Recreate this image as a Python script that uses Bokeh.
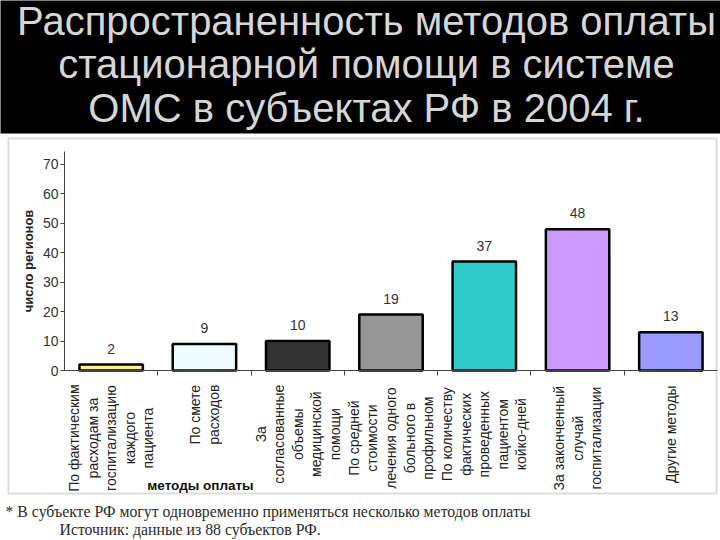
import math
from bokeh.plotting import figure
from bokeh.models import (Range1d, LinearAxis, FixedTicker, Label, BoxAnnotation,
                          ColumnDataSource)
from bokeh.core.properties import value
from bokeh.embed import file_html
from bokeh.resources import INLINE

# ---------------- data ----------------
title_lines = [
    "Распространенность методов оплаты",
    "стационарной помощи в системе",
    "ОМС в субъектах РФ в 2004 г.",
]
categories = [
    "По фактическим\nрасходам за\nгоспитализацию\nкаждого\nпациента",
    "По смете\nрасходов",
    "За\nсогласованные\nобъемы\nмедицинской\nпомощи",
    "По средней\nстоимости\nлечения одного\nбольного в\nпрофильном",
    "По количеству\nфактических\nпроведенных\nпациентом\nкойко-дней",
    "За законченный\nслучай\nгоспитализации",
    "Другие методы",
]
values = [2, 9, 10, 19, 37, 48, 13]
bar_colors = ["#f7f28e", "#eefcfd", "#333333", "#969696", "#33cccc", "#cc99ff", "#9999ff"]
y_ticks = [0, 10, 20, 30, 40, 50, 60, 70]
y_label = "число регионов"
x_label = "методы оплаты"
footnotes = [
    "* В субъекте РФ могут одновременно применяться несколько методов оплаты",
    "Источник: данные из 88 субъектов РФ.",
]

# ---------------- layout helpers (pixel -> data) ----------------
W, H = 720, 540
AL, AR, AT, AB = 64, 717, 151, 370   # plot-area box in canvas pixels
N = len(categories)
YMAX = 74.4


def dx(px):
    return (px - AL) / (AR - AL) * N


def dy(py):
    return (AB - py) / (AB - AT) * YMAX


p = figure(width=W, height=H, x_range=Range1d(dx(0), dx(W)), y_range=Range1d(dy(H), dy(0)),
           output_backend="svg", toolbar_location=None,
           x_axis_type=None, y_axis_type=None,
           min_border=0, min_border_left=0, min_border_right=0,
           min_border_top=0, min_border_bottom=0)
p.outline_line_color = None
p.background_fill_color = "white"
p.border_fill_color = "white"

# black title band
p.add_layout(BoxAnnotation(left=dx(-20), right=dx(740), top=dy(-20), bottom=dy(133),
                           fill_color="black", fill_alpha=1.0, line_color=None,
                           level="underlay"))
# gray chart frame
p.add_layout(BoxAnnotation(left=dx(8), right=dx(716), top=dy(138), bottom=dy(493),
                           fill_alpha=0.0, line_color="#8a8a8a", line_width=2,
                           level="underlay"))

# title
title_y = [20, 63, 107]
for line, ty in zip(title_lines, title_y):
    p.add_layout(Label(x=dx(366), y=dy(ty), text=line,
                       text_align="center", text_baseline="alphabetic",
                       text_font="Liberation Sans", text_font_size="40px",
                       text_color="#d6d6d6"))

# axes (positioned at the data origin, limited to the plot area)
yaxis = LinearAxis(ticker=FixedTicker(ticks=y_ticks), axis_label=y_label,
                   fixed_location=0, bounds=(0, YMAX))
yaxis.axis_line_color = "#444444"
yaxis.major_tick_line_color = "#444444"
yaxis.major_tick_out = 4
yaxis.major_tick_in = 0
yaxis.minor_tick_line_color = None
yaxis.major_label_standoff = 2
yaxis.major_label_text_font = "Liberation Sans"
yaxis.major_label_text_font_size = "14px"
yaxis.major_label_text_color = "#333333"
yaxis.axis_label_text_font = "Liberation Sans"
yaxis.axis_label_text_font_size = "13px"
yaxis.axis_label_text_font_style = "bold"
yaxis.axis_label_text_color = "#222222"
yaxis.axis_label_standoff = 4
p.add_layout(yaxis, "left")

xticks = list(range(1, N))
xaxis = LinearAxis(ticker=FixedTicker(ticks=xticks), fixed_location=0, bounds=(0, N),
                   major_label_overrides={t: "" for t in xticks})
xaxis.axis_line_color = "#444444"
xaxis.major_tick_line_color = "#444444"
xaxis.major_tick_out = 5
xaxis.major_tick_in = 0
xaxis.minor_tick_line_color = None
p.add_layout(xaxis, "below")

# bars
xs = [i + 0.5 for i in range(N)]
src = ColumnDataSource(dict(x=xs, top=values, color=bar_colors,
                            lab=[str(v) for v in values]))
p.vbar(x="x", top="top", width=0.68, bottom=0, source=src,
       fill_color="color", line_color="black", line_width=2.5)
p.text(x="x", y="top", text="lab", source=src, y_offset=-16,
       text_align="center", text_baseline="middle",
       text_font=value("Liberation Sans"), text_font_size="14px",
       text_color="#333333")

# category labels (rotated, multi-line, centered lines)
for i, cat in enumerate(categories):
    longest = max(len(s) for s in cat.split("\n"))
    L = 7.8 * longest
    p.add_layout(Label(x=xs[i], y=dy(383 + L / 2), text=cat, angle=math.pi / 2,
                       text_align="center", text_baseline="middle",
                       text_font="Liberation Sans", text_font_size="14px",
                       text_line_height=1.16, text_color="#222222"))

# x axis title
p.add_layout(Label(x=dx(200), y=dy(485), text=x_label, text_align="center",
                   text_baseline="alphabetic", text_font="Liberation Sans",
                   text_font_size="13.5px", text_font_style="bold",
                   text_color="#111111"))

# footnotes
p.add_layout(Label(x=dx(5), y=dy(511), text=footnotes[0], text_align="left",
                   text_baseline="alphabetic", text_font="Liberation Serif",
                   text_font_size="15.8px", text_color="#2a2a2a"))
p.add_layout(Label(x=dx(59), y=dy(529), text=footnotes[1], text_align="left",
                   text_baseline="alphabetic", text_font="Liberation Serif",
                   text_font_size="15.8px", text_color="#2a2a2a"))

open("out.html", "w").write(file_html(p, INLINE))
